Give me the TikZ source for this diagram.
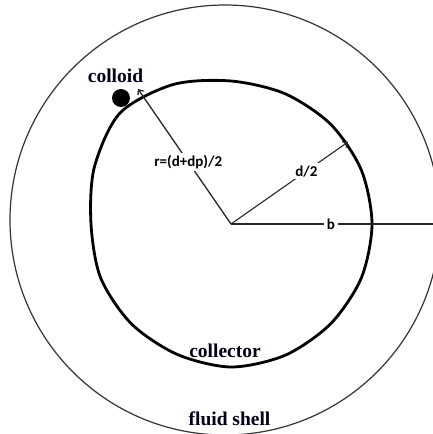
\documentclass[tikz,border=0pt]{standalone}
\usepackage{fontspec}
\newfontfamily\serlbl{Liberation Serif}
\newfontfamily\sanlbl{Carlito}
\usetikzlibrary{arrows.meta}

\begin{document}
\begin{tikzpicture}[x=1pt,y=-1pt,
  shell/.style={draw=black!80, line width=1.2pt},
  coll/.style={draw=black, line width=2.8pt},
  rad/.style={line width=1.3pt, draw=black!85},
  radarr/.style={rad, -{Straight Barb[length=4pt,width=7pt]}},
  tlbl/.style={font=\serlbl\bfseries\fontsize{19.5}{22}\selectfont, text=black!90!blue, inner sep=1pt},
  mlbl/.style={font=\sanlbl\bfseries\fontsize{15}{18}\selectfont, fill=white, inner sep=2.5pt}]

\useasboundingbox (0,0) rectangle (433,434);
\fill[white] (0,0) rectangle (433,434);

\coordinate (ctr) at (231,224);
\coordinate (shellctr) at (225,220);

% ===== FLUID SHELL =====
\draw[shell] (shellctr) circle[radius=215pt];

% ===== COLLECTOR (hand drawn, a little wider at top left) =====
\draw[coll] plot[smooth cycle] coordinates {
  (372,224) (361.3,170) (330.7,124.3) (285,93.7) (231,81) (173.2,84.5)
  (120,113) (94.3,167.4) (91,224) (100.7,278) (131.3,323.7) (177,354.3)
  (231,367) (285.3,355.2) (330.7,323.7) (361.3,278)};

% ===== COLLOID =====
\node[circle, fill=black, minimum size=18pt, inner sep=0pt] (colloid) at (121,98) {};
\node[tlbl, anchor=base] (colloidlbl) at (115.5,82) {colloid};

% ===== RADII =====
\coordinate (rtip) at (138,89);
\coordinate (dtip) at (348,142);
\coordinate (bend) at (433,224);
\draw[radarr] (ctr) -- node[mlbl, pos=.46] (rlbl) {r=(d+dp)/2} (rtip);
\draw[radarr, line width=1.1pt] (ctr) -- node[mlbl, pos=.645] (dlbl) {d/2} (dtip);
\draw[rad] (ctr) -- node[mlbl, pos=.495] (blbl) {b} (bend);

% ===== LABELS =====
\node[tlbl, anchor=base] (colllbl) at (225,357) {collector};
\node[tlbl, anchor=base] (shelllbl) at (229.5,425) {fluid shell};

\end{tikzpicture}
\end{document}
